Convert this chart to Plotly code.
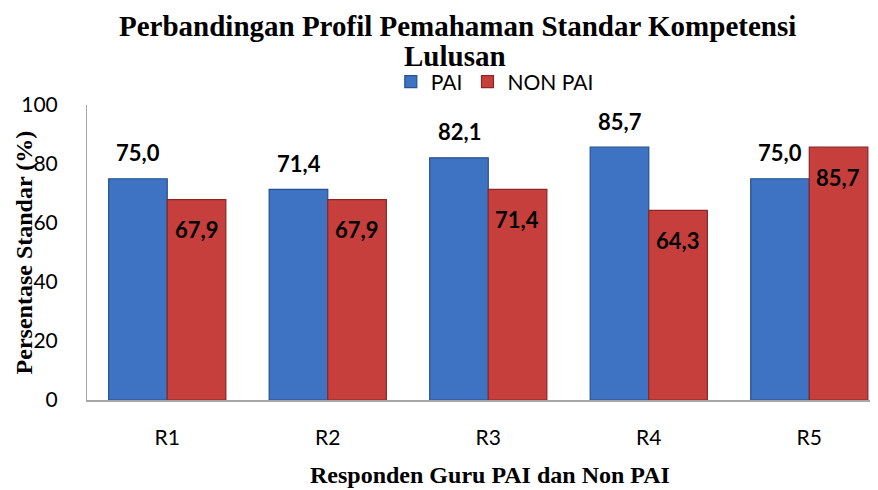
import plotly.graph_objects as go

# Data
kategori = ["R1", "R2", "R3", "R4", "R5"]
nilai_pai = [75.0, 71.4, 82.1, 85.7, 75.0]
nilai_non_pai = [67.9, 67.9, 71.4, 64.3, 85.7]
label_pai = ["75,0", "71,4", "82,1", "85,7", "75,0"]
label_non_pai = ["67,9", "67,9", "71,4", "64,3", "85,7"]

SERIF = "Liberation Serif, Times New Roman, serif"
SANS = "Lato, Open Sans, sans-serif"

fig = go.Figure()
fig.add_trace(go.Bar(
    x=kategori, y=nilai_pai, name="PAI",
    marker=dict(color="#3d73c2", line=dict(color="#27508f", width=1.2)),
))
fig.add_trace(go.Bar(
    x=kategori, y=nilai_non_pai, name="NON PAI",
    marker=dict(color="#c63f3c", line=dict(color="#8a2725", width=1.2)),
))

# label nilai: PAI di atas batang, NON PAI di dalam batang
for k, v, t in zip(kategori, nilai_pai, label_pai):
    fig.add_annotation(x=k, y=v, text="<b>%s</b>" % t, showarrow=False,
                       xshift=-29, yshift=26,
                       font=dict(family=SANS, size=22, color="black"))
for k, v, t in zip(kategori, nilai_non_pai, label_non_pai):
    fig.add_annotation(x=k, y=v, text="<b>%s</b>" % t, showarrow=False,
                       xshift=29, yshift=-30,
                       font=dict(family=SANS, size=22, color="black"))

# judul (dua baris)
fig.add_annotation(text="<b>Perbandingan Profil Pemahaman Standar Kompetensi</b>",
                   xref="paper", yref="paper", x=0.464, y=1.268,
                   xanchor="center", yanchor="middle", showarrow=False,
                   font=dict(family=SERIF, size=29, color="black"))
fig.add_annotation(text="<b>Lulusan</b>",
                   xref="paper", yref="paper", x=0.46, y=1.165,
                   xanchor="center", yanchor="middle", showarrow=False,
                   font=dict(family=SERIF, size=29, color="black"))

# judul sumbu (menimpa label tick seperti aslinya)
fig.add_annotation(text="<b>Persentase Standar (%)</b>", textangle=-90,
                   xref="paper", yref="paper", x=-0.079, y=0.5,
                   xanchor="center", yanchor="middle", showarrow=False,
                   font=dict(family=SERIF, size=24, color="black"))
fig.add_annotation(text="<b>Responden Guru PAI dan Non PAI</b>",
                   xref="paper", yref="paper", x=0.504, y=-0.255,
                   xanchor="center", yanchor="middle", showarrow=False,
                   font=dict(family=SERIF, size=24, color="black"))

fig.update_layout(
    width=878, height=490,
    paper_bgcolor="white", plot_bgcolor="white",
    margin=dict(l=79, r=0, t=97, b=98, autoexpand=False),
    barmode="group", bargap=0.27, bargroupgap=0,
    legend=dict(
        orientation="h", xref="container", x=0.436, xanchor="left",
        yref="container", y=0.849, yanchor="middle",
        font=dict(family=SANS, size=21, color="black"),
        itemwidth=30, tracegroupgap=0, bgcolor="rgba(0,0,0,0)",
    ),
    xaxis=dict(
        range=[-0.5, 4.478], showline=True, linecolor="#a6a6a6", linewidth=1.5,
        ticks="", ticklabelstandoff=18,
        tickfont=dict(family=SANS, size=21, color="black"),
    ),
    yaxis=dict(
        range=[0, 100], dtick=20, showgrid=False, zeroline=False,
        showline=True, linecolor="#a6a6a6", linewidth=1,
        ticks="", ticklabelstandoff=24,
        tickfont=dict(family=SANS, size=21, color="black"),
    ),
)

fig.write_html("out.html")
